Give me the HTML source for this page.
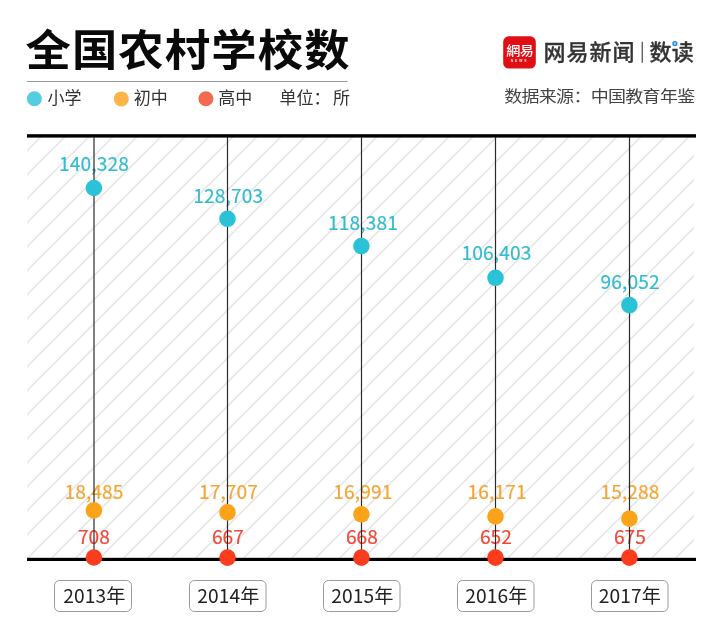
<!DOCTYPE html>
<html lang="zh-CN">
<head>
<meta charset="utf-8">
<title>全国农村学校数</title>
<style>
html,body{margin:0;padding:0;background:#fff;}
body{width:720px;height:633px;overflow:hidden;position:relative;}
svg{position:absolute;left:0;top:0;display:block;}
.cjk{font-family:"Liberation Sans","Noto Sans CJK SC",sans-serif;}
.num{font-family:"Noto Sans CJK SC","Liberation Sans",sans-serif;font-weight:400;}
</style>
</head>
<body>
<svg width="720" height="633" viewBox="0 0 720 633">
  <defs>
    <pattern id="hatch" patternUnits="userSpaceOnUse" x="9.7" y="0" width="24" height="24">
      <path d="M-6,6 L6,-6 M0,24 L24,0 M18,30 L30,18" stroke="#e1e1e1" stroke-width="1.4" fill="none"/>
    </pattern>
  </defs>

  <!-- header -->
  <text class="cjk" x="0" y="65.7" font-size="43.6" font-weight="700" letter-spacing="1.1" fill="#0a0a0a" transform="translate(25.4,0) scale(1.04,1)">全国农村学校数</text>
  <rect x="27" y="81" width="320.5" height="1" fill="#999"/>

  <circle cx="34.4" cy="98.7" r="7.5" fill="#55cde0"/>
  <text class="cjk" x="47.5" y="104.2" font-size="17" fill="#333">小学</text>
  <circle cx="121.3" cy="98.9" r="7.5" fill="#fdb549"/>
  <text class="cjk" x="133.8" y="104.2" font-size="17" fill="#333">初中</text>
  <circle cx="205.9" cy="98.8" r="7.5" fill="#f46a4f"/>
  <text class="cjk" x="218.3" y="104.2" font-size="17" fill="#333">高中</text>
  <text class="cjk" x="279.5" y="104.2" font-size="17" fill="#333">单位：<tspan x="333">所</tspan></text>

  <!-- logo -->
  <rect x="503.2" y="36.3" width="32.6" height="32.3" rx="5.5" fill="#e00f14"/>
  <text class="cjk" x="0" y="55.3" font-size="12.8" font-weight="500" fill="#fff" text-anchor="middle" letter-spacing="-0.4" transform="translate(519.8,0) scale(1.1,1)">網易</text>
  <text x="519.6" y="61.8" font-family="Liberation Sans, sans-serif" font-size="3.3" font-weight="700" fill="#fff" fill-opacity="0.9" text-anchor="middle" letter-spacing="1.9">NEWS</text>
  <text class="cjk" x="543.4" y="60.4" font-size="22" font-weight="500" letter-spacing="1.0" fill="#333" stroke="#333" stroke-width="0.3">网易新闻</text>
  <rect x="641.6" y="41.8" width="1.3" height="21" fill="#555"/>
  <text class="cjk" x="649.4" y="60.4" font-size="22" font-weight="500" letter-spacing="0.3" fill="#333" stroke="#333" stroke-width="0.3">数读</text>
  <circle cx="675.6" cy="44.4" r="3.3" fill="#fff"/>
  <circle cx="674.9" cy="43.6" r="2" fill="#8fd0f5" stroke="#2288d4" stroke-width="1.3"/>
  <text class="cjk" x="0" y="101.7" font-size="15.8" letter-spacing="-0.62" fill="#444" transform="translate(504.2,0) scale(1.14,1)">数据来源：中国教育年鉴</text>

  <!-- chart -->
  <rect x="27" y="137" width="667" height="421" fill="url(#hatch)"/>
  <rect x="27" y="134.2" width="669" height="3.4" fill="#000"/>
  <rect x="27" y="557.8" width="669" height="3.2" fill="#000"/>

  <g class="num" font-size="19.2" letter-spacing="0.1" text-anchor="middle">
    <g fill="#33bccd" stroke="#33bccd" stroke-width="0.2">
      <text x="94" y="170.7">140,328</text>
      <text x="228.3" y="203">128,703</text>
      <text x="363" y="230.2">118,381</text>
      <text x="496.5" y="260.3">106,403</text>
      <text x="630.2" y="288.8">96,052</text>
    </g>
    <g fill="#f4a535" stroke="#f4a535" stroke-width="0.2">
      <text x="94" y="498.7">18,485</text>
      <text x="228.5" y="498.7">17,707</text>
      <text x="362.8" y="498.7">16,991</text>
      <text x="497.2" y="498.7">16,171</text>
      <text x="630" y="498.7">15,288</text>
    </g>
    <g fill="#f0493a" stroke="#f0493a" stroke-width="0.2">
      <text x="94" y="543.6">708</text>
      <text x="228" y="543.6">667</text>
      <text x="362" y="543.6">668</text>
      <text x="496" y="543.6">652</text>
      <text x="630" y="543.6">675</text>
    </g>
  </g>

  <g stroke="#2b2b2b" stroke-width="1.2">
    <line x1="94" y1="137" x2="94" y2="558"/>
    <line x1="227.5" y1="137" x2="227.5" y2="558"/>
    <line x1="361.5" y1="137" x2="361.5" y2="558"/>
    <line x1="495.5" y1="137" x2="495.5" y2="558"/>
    <line x1="629.5" y1="137" x2="629.5" y2="558"/>
  </g>

  <g>
    <g fill="#2ac2d7">
      <circle cx="93.9" cy="188" r="8.3"/>
      <circle cx="227.5" cy="218.8" r="8.3"/>
      <circle cx="361.4" cy="246.1" r="8.3"/>
      <circle cx="495.5" cy="277.8" r="8.3"/>
      <circle cx="629.4" cy="305.1" r="8.3"/>
    </g>
    <g fill="#fba41a">
      <circle cx="93.9" cy="510.4" r="8.3"/>
      <circle cx="227.5" cy="512.4" r="8.3"/>
      <circle cx="361.4" cy="514.3" r="8.3"/>
      <circle cx="495.5" cy="516.4" r="8.3"/>
      <circle cx="629.4" cy="518.7" r="8.3"/>
    </g>
    <g fill="#fb3d1e">
      <circle cx="93.9" cy="557.5" r="8.3"/>
      <circle cx="227.5" cy="557.6" r="8.3"/>
      <circle cx="361.4" cy="557.6" r="8.3"/>
      <circle cx="495.5" cy="557.6" r="8.3"/>
      <circle cx="629.4" cy="557.6" r="8.3"/>
    </g>
  </g>

  <!-- year labels -->
  <g fill="#fff" stroke="#9a9a9a" stroke-width="1">
    <rect x="54.5" y="580.5" width="77" height="31" rx="5"/>
    <rect x="189.5" y="580.5" width="76.5" height="31" rx="5"/>
    <rect x="323.5" y="580.5" width="76.5" height="31" rx="5"/>
    <rect x="457.5" y="580.5" width="76.5" height="31" rx="5"/>
    <rect x="591.5" y="580.5" width="76.5" height="31" rx="5"/>
  </g>
  <g class="num" font-size="19.2" letter-spacing="0.1" fill="#222" text-anchor="middle">
    <text x="94.3" y="602.6">2013年</text>
    <text x="228.4" y="602.6">2014年</text>
    <text x="362.3" y="602.6">2015年</text>
    <text x="496.3" y="602.6">2016年</text>
    <text x="630" y="602.6">2017年</text>
  </g>
</svg>
</body>
</html>
